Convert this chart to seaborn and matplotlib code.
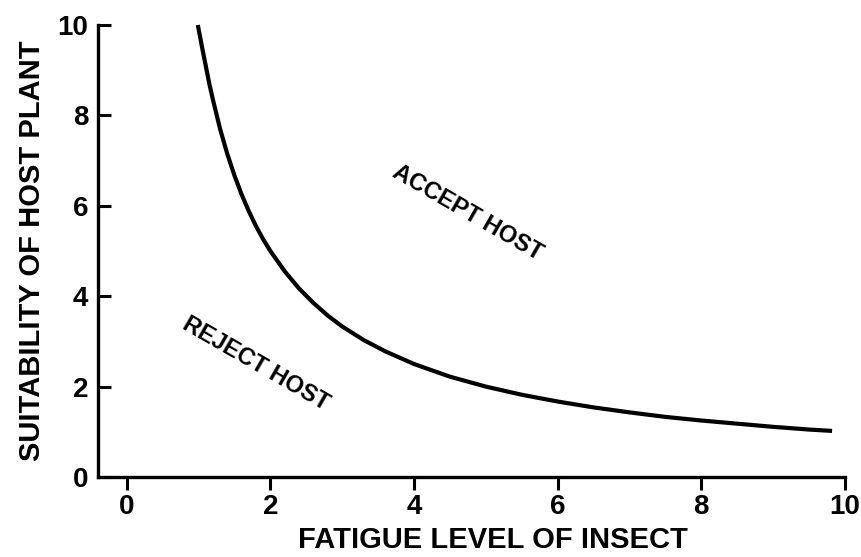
import matplotlib
matplotlib.use("Agg")
import matplotlib.pyplot as plt
import seaborn as sns
import pandas as pd

# values
fatigue = [0.99, 1.05, 1.1, 1.15, 1.2, 1.3, 1.4, 1.5, 1.6, 1.7, 1.8, 1.9, 2.0,
           2.2, 2.4, 2.6, 2.8, 3.0, 3.3, 3.6, 4.0, 4.5, 5.0, 5.5, 6.0, 6.5,
           7.0, 7.5, 8.0, 8.5, 9.0, 9.5, 9.82]
suitability = [10.0, 9.5, 9.1, 8.7, 8.35, 7.7, 7.15, 6.67, 6.25, 5.88, 5.55, 5.26, 5.0,
               4.55, 4.17, 3.85, 3.57, 3.33, 3.03, 2.78, 2.5, 2.22, 2.0, 1.82, 1.67, 1.54,
               1.43, 1.33, 1.25, 1.18, 1.11, 1.05, 1.02]
x_ticks = [0, 2, 4, 6, 8, 10]
y_ticks = [0, 2, 4, 6, 8, 10]

sns.set_theme(style="white")
plt.rcParams['font.family'] = ['Liberation Sans', 'DejaVu Sans']
plt.rcParams['font.weight'] = 'bold'
plt.rcParams['text.color'] = 'black'
plt.rcParams['axes.labelcolor'] = 'black'
plt.rcParams['xtick.color'] = 'black'
plt.rcParams['ytick.color'] = 'black'

df = pd.DataFrame({'fatigue': fatigue, 'suitability': suitability})

fig = plt.figure(figsize=(8.61, 5.57), dpi=100)
ax = fig.add_axes([0.1138, 0.1436, 0.9814 - 0.1138, 0.9551 - 0.1436])

sns.lineplot(data=df, x='fatigue', y='suitability', ax=ax,
             color='black', linewidth=3.0, sort=False)
for l in ax.lines:
    l.set_clip_on(False)
    l.set_solid_capstyle('butt')
    l.set_solid_joinstyle('round')

ax.set_xlim(-0.40, 10)
ax.set_ylim(0, 10)
ax.set_xticks(x_ticks)
ax.set_yticks(y_ticks)
ax.set_xticklabels([str(t) for t in x_ticks], fontsize=20, fontweight='bold')
ax.set_yticklabels([str(t) for t in y_ticks], fontsize=20, fontweight='bold')

ax.tick_params(axis='x', direction='out', length=9, width=2.2, pad=3, colors='black')
ax.tick_params(axis='y', direction='in', length=9, width=2.2, pad=7, colors='black')
ax.tick_params(bottom=True, left=True)

for side in ['top', 'right']:
    ax.spines[side].set_visible(False)
for side in ['left', 'bottom']:
    ax.spines[side].set_linewidth(2.4)
    ax.spines[side].set_color('black')

ax.set_xlabel('FATIGUE LEVEL OF INSECT', fontsize=21, fontweight='bold')
ax.set_ylabel('SUITABILITY OF HOST PLANT', fontsize=21, fontweight='bold', labelpad=8)
ax.xaxis.set_label_coords(0.529, -0.108)

ax.text(4.75, 5.85, 'ACCEPT HOST', rotation=-30, fontsize=17, fontweight='bold',
        ha='center', va='center', rotation_mode='anchor')
ax.text(1.8, 2.5, 'REJECT HOST', rotation=-30, fontsize=17, fontweight='bold',
        ha='center', va='center', rotation_mode='anchor')

ax.grid(False)
fig.savefig('out.png', dpi=100)
